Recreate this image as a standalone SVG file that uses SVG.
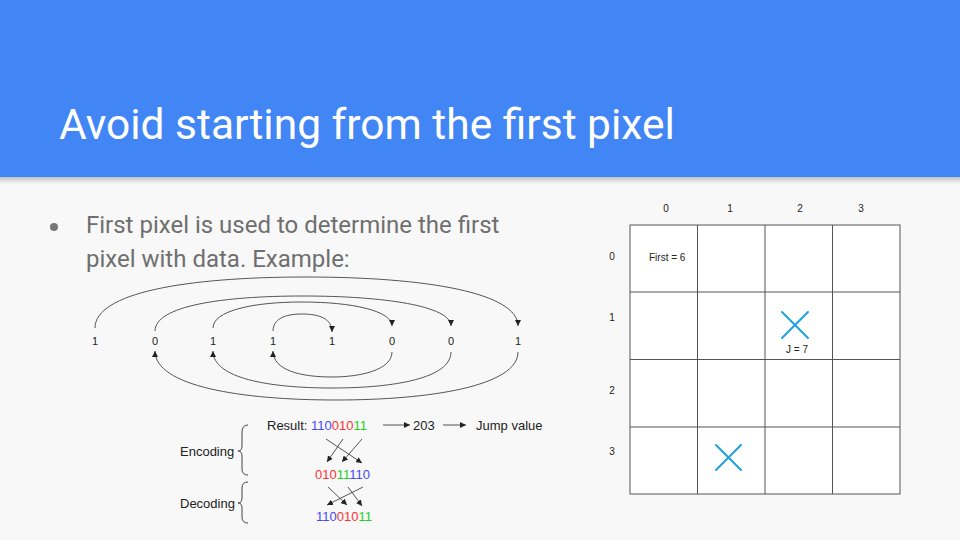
<svg xmlns="http://www.w3.org/2000/svg" width="960" height="540" viewBox="0 0 960 540">
  <defs>
    <marker id="tri" viewBox="0 0 10 10" refX="10" refY="5" markerWidth="6" markerHeight="6" markerUnits="userSpaceOnUse" orient="auto">
      <path d="M0,0 L10,5 L0,10 z" fill="#222"/>
    </marker>
    <linearGradient id="shade" x1="0" y1="0" x2="0" y2="1">
      <stop offset="0" stop-color="#000" stop-opacity="0.22"/>
      <stop offset="1" stop-color="#000" stop-opacity="0"/>
    </linearGradient>
    <style>
      .title { font-family: Roboto, "Liberation Sans", sans-serif; font-size: 42.5px; fill: #ffffff; }
      .body { font-family: Roboto, "Liberation Sans", sans-serif; font-size: 24px; fill: #6f6f6f; }
      .dig { font-family: "Liberation Sans", Arial, sans-serif; font-size: 11px; fill: #222; text-anchor: middle; }
      .lbl { font-family: "Liberation Sans", Arial, sans-serif; font-size: 13px; fill: #222; }
      .small { font-family: "Liberation Sans", Arial, sans-serif; font-size: 10px; fill: #222; }
      .curve { fill: none; stroke: #555; stroke-width: 1; marker-end: url(#tri); }
      .brace { fill: none; stroke: #444; stroke-width: 1; }
      .grid { fill: #ffffff; stroke: #555; stroke-width: 1; }
      .cross { stroke: #1ea0e2; stroke-width: 2; stroke-linecap: round; }
      .b { fill: #4646ff; }
      .r { fill: #ff3030; }
      .g { fill: #22d022; }
    </style>
  </defs>

  <!-- slide background and header band -->
  <rect x="0" y="0" width="960" height="540" fill="#f8f8f8"/>
  <rect x="0" y="177" width="960" height="7" fill="url(#shade)"/>
  <rect x="0" y="0" width="960" height="177" fill="#4285f4"/>
  <text class="title" x="59" y="139">Avoid starting from the first pixel</text>

  <!-- bullet -->
  <circle cx="54" cy="227" r="4" fill="#777"/>
  <text class="body" x="86" y="233">First pixel is used to determine the first</text>
  <text class="body" x="86" y="267">pixel with data. Example:</text>

  <!-- bit sequence -->
  <g id="bits">
    <text class="dig" x="95" y="345">1</text>
    <text class="dig" x="155" y="345">0</text>
    <text class="dig" x="213" y="345">1</text>
    <text class="dig" x="273" y="345">1</text>
    <text class="dig" x="332" y="345">1</text>
    <text class="dig" x="392" y="345">0</text>
    <text class="dig" x="451" y="345">0</text>
    <text class="dig" x="518" y="345">1</text>
  </g>

  <!-- swap arcs -->
  <g id="arcs">
    <path class="curve" d="M95,328 C95,293 185,277 306,277 C427,277 518,293 518,326"/>
    <path class="curve" d="M155,331 C155,306 222,296 303,296 C384,296 451,306 451,326"/>
    <path class="curve" d="M213,328 C213,311 252,302 302,302 C353,302 392,311 392,326"/>
    <path class="curve" d="M273,331 C273,319 285,314 302,314 C320,314 332,319 332,332"/>
    <path class="curve" d="M392,352 C392,370 360,377 332,377 C300,377 273,370 273,351"/>
    <path class="curve" d="M451,352 C451,378 395,388 332,388 C268,388 213,378 213,351"/>
    <path class="curve" d="M518,352 C518,386 430,400 336,400 C240,400 155,386 155,351"/>
  </g>

  <!-- encoding / decoding -->
  <g id="encoding">
    <text class="lbl" x="180" y="456">Encoding</text>
    <path class="brace" d="M248,425 Q242,425 242,432 L242,446 Q242,451 238,451 Q242,451 242,456 L242,469 Q242,475 248,475"/>
    <text class="lbl" x="267" y="430">Result: <tspan class="b">110</tspan><tspan class="r">010</tspan><tspan class="g">11</tspan></text>
    <text class="lbl" x="413" y="430">203</text>
    <text class="lbl" x="476" y="430">Jump value</text>
    <text class="lbl" x="315" y="479"><tspan class="r">010</tspan><tspan class="g">11</tspan><tspan class="b">110</tspan></text>
  </g>
  <g id="decoding">
    <text class="lbl" x="180" y="508">Decoding</text>
    <path class="brace" d="M248,482 Q242,482 242,488 L242,498 Q242,503 238,503 Q242,503 242,508 L242,517 Q242,523 248,523"/>
    <text class="lbl" x="316" y="521"><tspan class="b">110</tspan><tspan class="r">010</tspan><tspan class="g">11</tspan></text>
  </g>
  <g id="connectors">
    <path class="curve" d="M383,425 L410,425"/>
    <path class="curve" d="M443,425 L466,425"/>
    <path class="curve" d="M326,439 L362,463"/>
    <path class="curve" d="M343,439 L327,462"/>
    <path class="curve" d="M362,439 L342,462"/>
    <path class="curve" d="M328,487 L347,505"/>
    <path class="curve" d="M348,487 L362,506"/>
    <path class="curve" d="M363,487 L327,505"/>
  </g>

  <!-- 4x4 pixel grid -->
  <g id="grid">
    <rect class="grid" x="630" y="225" width="270" height="269"/>
    <path d="M697.5,225 V494 M765,225 V494 M832.5,225 V494 M630,292 H900 M630,359.5 H900 M630,427 H900" stroke="#555" stroke-width="1" fill="none"/>
    <text class="small" x="666" y="212" text-anchor="middle">0</text>
    <text class="small" x="730" y="212" text-anchor="middle">1</text>
    <text class="small" x="800" y="212" text-anchor="middle">2</text>
    <text class="small" x="861" y="212" text-anchor="middle">3</text>
    <text class="small" x="612" y="260" text-anchor="middle">0</text>
    <text class="small" x="612" y="321" text-anchor="middle">1</text>
    <text class="small" x="612" y="394" text-anchor="middle">2</text>
    <text class="small" x="612" y="455" text-anchor="middle">3</text>
    <text class="small" x="649" y="261">First = 6</text>
  </g>
  <g id="jump-target">
    <path class="cross" d="M782,312 L808,338 M808,312 L782,338"/>
    <text class="small" x="797" y="353" text-anchor="middle">J = 7</text>
  </g>
  <g id="mark">
    <path class="cross" d="M716,445 L741,470 M741,445 L716,470"/>
  </g>
</svg>
